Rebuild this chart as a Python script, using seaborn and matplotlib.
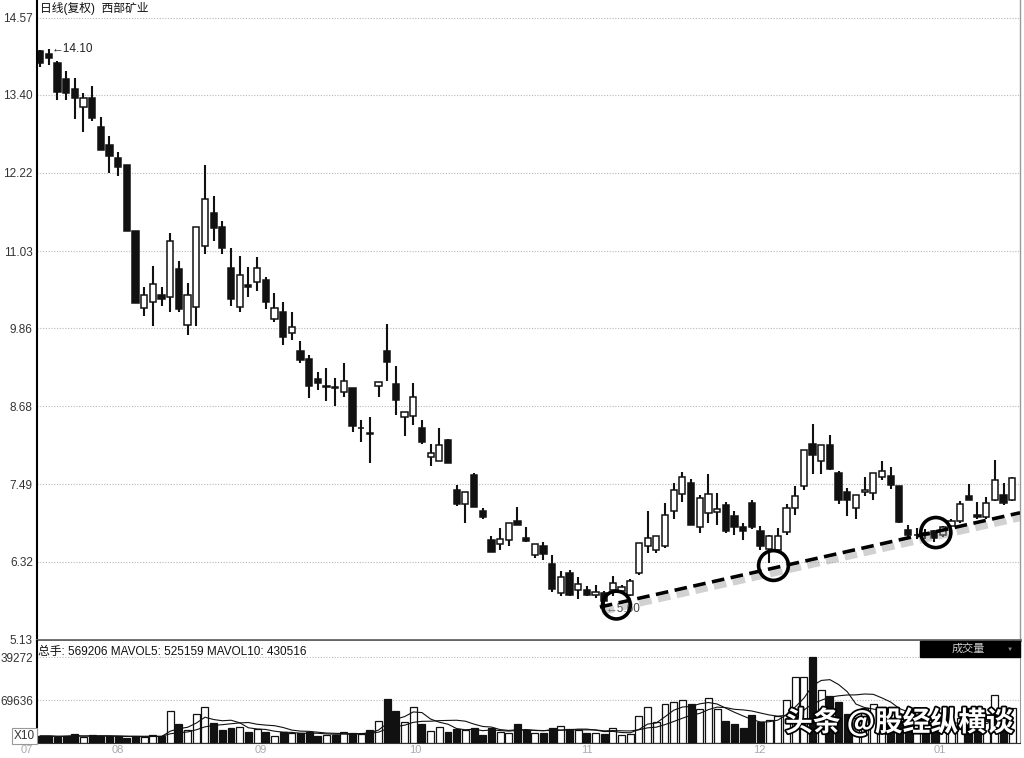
import numpy as np
import pandas as pd
import matplotlib
matplotlib.use("Agg")
import matplotlib.pyplot as plt
import matplotlib.patheffects as pe
import matplotlib.transforms as mtransforms
from matplotlib.patches import Rectangle
import seaborn as sns

# daily OHLC (Jul -> mid Jan), one entry per candle
opens = [14.06, 14.02, 13.89, 13.64, 13.49, 13.21, 13.35, 12.92, 12.64, 12.44,
         12.34, 11.34, 10.16, 10.26, 10.37, 10.34, 10.76, 9.91, 10.18, 11.11,
         11.61, 11.40, 10.77, 10.18, 10.52, 10.56, 10.59, 10.00, 10.10, 9.79,
         9.51, 9.39, 9.09, 8.97, 8.97, 8.89, 8.95, 8.34, 8.27, 8.99,
         9.51, 9.01, 8.51, 8.53, 8.34, 7.90, 7.85, 8.17, 7.41, 7.19,
         7.64, 7.08, 6.65, 6.58, 6.65, 6.94, 6.68, 6.42, 6.56, 6.29,
         5.84, 6.15, 5.89, 5.89, 5.81, 5.84, 5.89, 5.88, 5.82, 6.15,
         6.56, 6.50, 6.56, 7.09, 7.35, 7.51, 6.85, 7.05, 7.07, 7.18,
         7.01, 6.85, 7.21, 6.79, 6.51, 6.50, 6.77, 7.13, 7.47, 8.10,
         7.85, 8.09, 7.66, 7.38, 7.14, 7.38, 7.36, 7.61, 7.62, 7.47,
         6.80, 6.72, 6.76, 6.78, 6.72, 6.86, 6.93, 7.32, 7.02, 6.99,
         7.25, 7.33, 7.25]
highs = [14.08, 14.10, 13.91, 13.76, 13.66, 13.43, 13.53, 13.07, 12.78, 12.53,
         12.34, 11.34, 10.49, 10.80, 10.48, 11.30, 10.88, 10.54, 11.39, 12.34,
         11.86, 11.49, 11.07, 10.96, 10.79, 10.94, 10.63, 10.40, 10.26, 10.10,
         9.67, 9.46, 9.19, 9.26, 9.11, 9.33, 8.95, 8.47, 8.52, 9.05,
         9.92, 9.28, 8.59, 9.03, 8.47, 8.11, 8.34, 8.18, 7.48, 7.37,
         7.67, 7.14, 6.71, 6.83, 6.90, 7.15, 6.85, 6.58, 6.62, 6.42,
         6.17, 6.19, 6.09, 5.95, 5.96, 5.87, 6.10, 5.96, 6.06, 6.60,
         7.08, 6.71, 7.21, 7.51, 7.68, 7.57, 7.33, 7.65, 7.36, 7.23,
         7.08, 6.90, 7.26, 6.86, 6.72, 6.83, 7.20, 7.47, 8.02, 8.41,
         8.09, 8.24, 7.70, 7.43, 7.33, 7.60, 7.66, 7.84, 7.76, 7.47,
         6.88, 6.83, 6.82, 6.80, 6.86, 6.96, 7.24, 7.49, 7.23, 7.30,
         7.86, 7.51, 7.60]
lows = [13.82, 13.86, 13.32, 13.32, 13.03, 12.84, 13.00, 12.56, 12.21, 12.17,
        11.33, 10.24, 10.04, 9.90, 10.20, 10.11, 10.11, 9.76, 9.89, 10.99,
        11.19, 10.99, 10.20, 10.11, 10.34, 10.42, 10.15, 9.95, 9.61, 9.68,
        9.34, 8.80, 8.92, 8.75, 8.68, 8.81, 8.29, 8.14, 7.81, 8.82,
        9.06, 8.54, 8.22, 8.39, 8.11, 7.77, 7.84, 7.81, 7.16, 6.90,
        7.15, 6.96, 6.46, 6.49, 6.56, 6.87, 6.62, 6.37, 6.35, 5.86,
        5.80, 5.79, 5.75, 5.80, 5.76, 5.60, 5.80, 5.86, 5.79, 6.12,
        6.45, 6.45, 6.52, 6.96, 7.23, 6.87, 6.75, 6.90, 6.87, 6.76,
        6.72, 6.65, 6.82, 6.49, 6.30, 6.47, 6.72, 7.03, 7.40, 7.65,
        7.65, 7.71, 7.20, 7.01, 6.97, 7.32, 7.25, 7.56, 7.42, 6.91,
        6.67, 6.66, 6.66, 6.62, 6.70, 6.84, 6.91, 7.25, 6.97, 6.96,
        7.24, 7.18, 7.24]
closes = [13.88, 13.96, 13.44, 13.43, 13.35, 13.35, 13.05, 12.57, 12.47, 12.31,
          11.33, 10.24, 10.37, 10.53, 10.30, 11.19, 10.15, 10.37, 11.39, 11.82,
          11.38, 11.07, 10.30, 10.67, 10.48, 10.77, 10.26, 10.16, 9.72, 9.88,
          9.38, 8.98, 9.03, 8.98, 8.96, 9.06, 8.38, 8.35, 8.26, 9.05,
          9.35, 8.77, 8.59, 8.81, 8.14, 7.97, 8.09, 7.81, 7.19, 7.37,
          7.15, 7.00, 6.46, 6.66, 6.90, 6.87, 6.63, 6.58, 6.44, 5.91,
          6.09, 5.81, 5.98, 5.82, 5.86, 5.72, 5.99, 5.94, 6.03, 6.60,
          6.67, 6.71, 7.03, 7.41, 7.60, 6.87, 7.28, 7.34, 7.11, 6.79,
          6.85, 6.79, 6.85, 6.55, 6.71, 6.71, 7.14, 7.32, 8.02, 7.94,
          8.09, 7.72, 7.25, 7.25, 7.33, 7.41, 7.66, 7.70, 7.48, 6.92,
          6.72, 6.73, 6.72, 6.67, 6.85, 6.94, 7.19, 7.25, 6.99, 7.21,
          7.56, 7.21, 7.59]
# volume in x10 lots
volumes = [11400, 11400, 9800, 11400, 14100, 9800, 12500, 10900, 10900, 10900,
           8700, 10900, 9800, 12500, 10900, 52200, 31500, 20700, 46800, 58700,
           33200, 21700, 25000, 26100, 17900, 23400, 17900, 10900, 17900, 16300,
           16300, 17900, 10900, 12500, 13600, 17900, 16900, 14100, 20700, 35900,
           72300, 51700, 34300, 58700, 30400, 19600, 26100, 17900, 23400, 20700,
           24500, 13600, 24500, 17900, 16300, 30400, 20700, 16300, 16300, 24500,
           27200, 23400, 21700, 16300, 16300, 15200, 25000, 12500, 14100, 43500,
           58700, 34300, 63100, 66900, 69600, 64200, 54900, 73900, 54900, 35900,
           30400, 25000, 45100, 34300, 38100, 43500, 69600, 106600, 106600, 140300,
           85900, 76100, 66900, 47800, 40000, 57600, 64200, 48000, 40000, 35000,
           30000, 25000, 22000, 22000, 25000, 28000, 40000, 57600, 30000, 35000,
           77700, 56000, 56920]

price_ticks = [14.57, 13.40, 12.22, 11.03, 9.86, 8.68, 7.49, 6.32, 5.13]
vol_ticks = [69636, 139272]
vol_tick_labels = ["69636", "39272"]
month_labels = ["07", "08", "09", "10", "11", "12", "01"]
month_pos = [-1.5, 9.0, 25.4, 43.2, 63.0, 82.9, 103.7]

trend_x = [64.5, 112.9]
trend_y = [5.63, 7.06]
circle_x = [66.4, 84.5, 103.2]
circle_y = [5.66, 6.26, 6.76]

sns.set_style("white")
plt.rcParams['font.family'] = ['Liberation Sans', 'Noto Sans CJK SC', 'DejaVu Sans']

df = pd.DataFrame(dict(open=opens, high=highs, low=lows, close=closes, vol=volumes))
df['idx'] = np.arange(len(df))
df['up'] = df['close'] >= df['open']
df['ma5'] = df['vol'].rolling(5, min_periods=1).mean()
df['ma10'] = df['vol'].rolling(10, min_periods=1).mean()
fills = np.where(df['up'], 'white', '#111111')

fig = plt.figure(figsize=(10.24, 7.58), dpi=100)
W, H = 1024, 758
ax = fig.add_axes([37 / W, 1 - 640 / H, (1020 - 37) / W, 640 / H])
axv = fig.add_axes([37 / W, 1 - 743 / H, (1020 - 37) / W, (743 - 641) / H])

# price panel
ax.vlines(df['idx'], df['low'], df['high'], color='#111111', lw=1.5, zorder=1)
ax.bar(df['idx'], (df['close'] - df['open']).abs(),
       bottom=df[['open', 'close']].min(axis=1), width=0.72,
       color=fills, edgecolor='#111111', lw=1.1, zorder=2)

ax.set_xlim(-0.35, 112.9)
ax.set_ylim(5.13, 14.84)
ax.set_xticks([])
ax.set_yticks(price_ticks)
ax.set_yticklabels([f"{t:.2f}" for t in price_ticks])
ax.tick_params(axis='y', length=0, pad=3, labelsize=8.5, labelcolor='#333333')
ax.yaxis.grid(True, linestyle=(0, (1, 1.5)), color='#b8b8b8', lw=0.8)
ax.set_axisbelow(True)
ax.spines['top'].set_visible(False)
ax.spines['left'].set_color('black')
ax.spines['left'].set_linewidth(1.5)
ax.spines['bottom'].set_color('#666666')
ax.spines['bottom'].set_linewidth(2)
ax.spines['right'].set_color('#999999')
ax.spines['right'].set_linewidth(1)

ax.text(0.003, 0.997, "日线(复权)  西部矿业", transform=ax.transAxes,
        va='top', ha='left', fontsize=8.5, color='#111111')
ax.annotate("←14.10", xy=(1, 14.10), xytext=(2, 0), textcoords='offset points',
            ha='left', va='center', fontsize=8.5, color='#222222')
ax.annotate("←5.60", xy=(65, 5.60), xytext=(1, 0), textcoords='offset points',
            ha='left', va='center', fontsize=8.5, color='#444444', zorder=3)

# support line with shadow and circled touch points
ax.plot(trend_x, trend_y, color='black', lw=2.6, dashes=(3.5, 1.8), zorder=5,
        path_effects=[pe.SimpleLineShadow(offset=(1.5, -3.5), shadow_color='#999999',
                                          alpha=0.45, linewidth=4.5),
                      pe.Normal()])
ax.scatter(circle_x, circle_y, s=[400, 460, 470], facecolors='none',
           edgecolors='black', linewidths=2.6, zorder=6)

# volume panel
axv.bar(df['idx'], df['vol'], width=0.8, color=fills, edgecolor='#111111', lw=0.9, zorder=2)
sns.lineplot(x=df['idx'], y=df['ma5'], ax=axv, color='#111111', lw=0.8, zorder=3)
sns.lineplot(x=df['idx'], y=df['ma10'], ax=axv, color='#111111', lw=0.8, zorder=3)
axv.set_xlim(-0.35, 112.9)
axv.set_ylim(0, 166000)
axv.set_xlabel("")
axv.set_ylabel("")
axv.set_xticks([])
axv.set_yticks(vol_ticks)
axv.set_yticklabels(vol_tick_labels)
axv.tick_params(axis='y', length=0, pad=3, labelsize=8.5, labelcolor='#333333')
axv.yaxis.grid(True, linestyle=(0, (1, 1.5)), color='#b8b8b8', lw=0.8)
axv.set_axisbelow(True)
axv.spines['top'].set_visible(False)
axv.spines['left'].set_color('black')
axv.spines['left'].set_linewidth(1.5)
axv.spines['bottom'].set_color('#333333')
axv.spines['right'].set_color('#999999')

axv.text(0.001, 0.95, "总手: 569206 MAVOL5: 525159 MAVOL10: 430516",
         transform=axv.transAxes, va='top', ha='left', fontsize=8.5, color='#111111')
axv.text(-0.002, 0.07, "X10", transform=axv.transAxes, ha='right', va='center',
         fontsize=8.5, color='#333333',
         bbox=dict(boxstyle='square,pad=0.15', fc='white', ec='#999999', lw=0.8))

trans = mtransforms.blended_transform_factory(axv.transData, axv.transAxes)
for pos, lab in zip(month_pos, month_labels):
    axv.text(pos, -0.015, lab, transform=trans, ha='center', va='top',
             fontsize=8, color='#aaaaaa', clip_on=False)

# "成交量" selector box
fig.patches.append(Rectangle((920 / W, 1 - 657 / H), 100 / W, 16 / H,
                             transform=fig.transFigure, color='black', zorder=10))
fig.text(968 / W, 1 - 649 / H, "成交量", ha='center', va='center', fontsize=8,
         color='#cccccc', zorder=11)
fig.text(1010 / W, 1 - 649 / H, "▼", ha='center', va='center', fontsize=4.5,
         color='#888888', zorder=11)

# watermark
fig.text(785 / W, 1 - 722 / H, "头条 @股经纵横谈", ha='left', va='center',
         fontsize=20, color='white', fontweight='bold',
         family=['Noto Sans CJK SC', 'DejaVu Sans'], zorder=12,
         path_effects=[pe.withStroke(linewidth=2.5, foreground='black')])

fig.savefig("out.png", dpi=100)
